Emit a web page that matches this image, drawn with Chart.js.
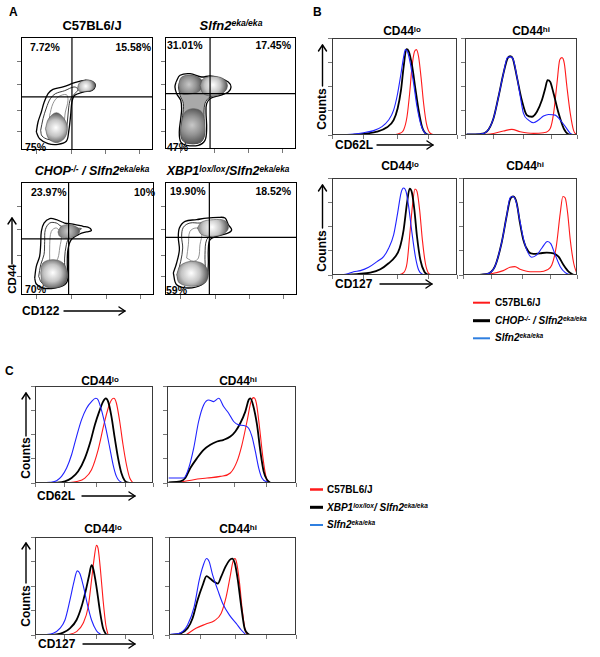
<!DOCTYPE html>
<html><head><meta charset="utf-8">
<script src="https://cdn.jsdelivr.net/npm/chart.js@4/dist/chart.umd.min.js"></script>
<style>
html,body{margin:0;padding:0;background:#fff;}
#page{position:relative;width:600px;height:657px;overflow:hidden;font-family:"Liberation Sans",Arial,Helvetica,sans-serif;font-weight:bold;color:#000;}
#page canvas{position:absolute;}
.t{position:absolute;white-space:nowrap;}
.c{text-align:center;}
.r{text-align:right;}
sup{font-size:0.66em;vertical-align:0.42em;line-height:0;}
i{font-style:italic;}
.rot{position:absolute;white-space:nowrap;text-align:center;transform:rotate(-90deg);}
svg{position:absolute;left:0;top:0;}
</style></head>
<body><div id="page">
<!-- panel letters -->
<div class="t" style="left:9px;top:6px;font-size:12px;line-height:12px">A</div>
<div class="t" style="left:313px;top:6px;font-size:12px;line-height:12px">B</div>
<div class="t" style="left:5px;top:365px;font-size:12px;line-height:12px">C</div>

<!-- panel A titles -->
<div class="t c" style="left:22px;width:140px;top:19px;font-size:13px;line-height:13px">C57BL6/J</div>
<div class="t c" style="left:161px;width:140px;top:19px;font-size:13px;line-height:13px"><i>Slfn2<sup>eka/eka</sup></i></div>
<div class="t c" style="left:12px;width:160px;top:165px;font-size:12.5px;line-height:13px"><i>CHOP<sup>-/-</sup> / Slfn2<sup>eka/eka</sup></i></div>
<div class="t c" style="left:148px;width:160px;top:165px;font-size:12.5px;line-height:13px"><i>XBP1<sup>lox/lox</sup>/Slfn2<sup>eka/eka</sup></i></div>

<!-- panel A percentages -->
<div class="t" style="left:30px;top:41.5px;font-size:10.5px;line-height:11px">7.72%</div>
<div class="t r" style="right:449px;top:41.5px;font-size:10.5px;line-height:11px">15.58%</div>
<div class="t" style="left:25px;top:141.5px;font-size:10.5px;line-height:11px">75%</div>
<div class="t" style="left:167px;top:40px;font-size:10.5px;line-height:11px">31.01%</div>
<div class="t r" style="right:309px;top:40px;font-size:10.5px;line-height:11px">17.45%</div>
<div class="t" style="left:167px;top:141.5px;font-size:10.5px;line-height:11px">47%</div>
<div class="t" style="left:31px;top:187px;font-size:10.5px;line-height:11px">23.97%</div>
<div class="t r" style="right:445px;top:187px;font-size:10.5px;line-height:11px">10%</div>
<div class="t" style="left:25px;top:284px;font-size:10.5px;line-height:11px">70%</div>
<div class="t" style="left:170px;top:186px;font-size:10.5px;line-height:11px">19.90%</div>
<div class="t r" style="right:309px;top:186px;font-size:10.5px;line-height:11px">18.52%</div>
<div class="t" style="left:166px;top:285px;font-size:10.5px;line-height:11px">59%</div>

<!-- panel A axis labels -->
<div class="rot" style="left:-8px;top:273px;width:40px;height:12px;font-size:11.5px;line-height:12px">CD44</div>
<div class="t" style="left:22px;top:305px;font-size:12px;line-height:12px">CD122</div>

<!-- panel B titles -->
<div class="t c" style="left:352px;width:100px;top:25px;font-size:12px;line-height:12px">CD44<sup>lo</sup></div>
<div class="t c" style="left:481px;width:100px;top:25px;font-size:12px;line-height:12px">CD44<sup>hi</sup></div>
<div class="t c" style="left:350px;width:100px;top:160px;font-size:12px;line-height:12px">CD44<sup>lo</sup></div>
<div class="t c" style="left:475px;width:100px;top:160px;font-size:12px;line-height:12px">CD44<sup>hi</sup></div>
<div class="rot" style="left:297px;top:103px;width:50px;height:12px;font-size:12px;line-height:12px">Counts</div>
<div class="rot" style="left:297px;top:245px;width:50px;height:12px;font-size:12px;line-height:12px">Counts</div>
<div class="t" style="left:335px;top:139px;font-size:12px;line-height:12px">CD62L</div>
<div class="t" style="left:335px;top:278px;font-size:12px;line-height:12px">CD127</div>

<!-- panel B legend -->
<div class="t" style="left:495px;top:297.5px;font-size:10px;line-height:10px">C57BL6/J</div>
<div class="t" style="left:495px;top:315.5px;font-size:10px;line-height:10px"><i>CHOP<sup>-/-</sup> / Slfn2<sup>eka/eka</sup></i></div>
<div class="t" style="left:495px;top:333px;font-size:10px;line-height:10px"><i>Slfn2<sup>eka/eka</sup></i></div>

<!-- panel C titles -->
<div class="t c" style="left:50px;width:100px;top:375px;font-size:12px;line-height:12px">CD44<sup>lo</sup></div>
<div class="t c" style="left:188px;width:100px;top:375px;font-size:12px;line-height:12px">CD44<sup>hi</sup></div>
<div class="t c" style="left:53px;width:100px;top:523px;font-size:12px;line-height:12px">CD44<sup>lo</sup></div>
<div class="t c" style="left:188px;width:100px;top:523px;font-size:12px;line-height:12px">CD44<sup>hi</sup></div>
<div class="rot" style="left:1px;top:452px;width:50px;height:12px;font-size:12px;line-height:12px">Counts</div>
<div class="rot" style="left:1px;top:600px;width:50px;height:12px;font-size:12px;line-height:12px">Counts</div>
<div class="t" style="left:37px;top:490px;font-size:12px;line-height:12px">CD62L</div>
<div class="t" style="left:38px;top:638px;font-size:12px;line-height:12px">CD127</div>

<!-- panel C legend -->
<div class="t" style="left:327px;top:484.5px;font-size:10px;line-height:10px">C57BL6/J</div>
<div class="t" style="left:327px;top:502.5px;font-size:10px;line-height:10px"><i>XBP1<sup>lox/lox</sup>/ Slfn2<sup>eka/eka</sup></i></div>
<div class="t" style="left:327px;top:520px;font-size:10px;line-height:10px"><i>Slfn2<sup>eka/eka</sup></i></div>

<svg width="600" height="657" viewBox="0 0 600 657">
 <g stroke="#000" stroke-width="1.4" fill="none" stroke-linecap="round" stroke-linejoin="round">
  <line x1="12" y1="264" x2="12" y2="218"/><polyline points="8,224 12,218 16,224"/>
  <line x1="64" y1="311" x2="125" y2="311"/><polyline points="119,307 125,311 119,315"/>
  <line x1="322.5" y1="86" x2="322.5" y2="45"/><polyline points="318.5,51 322.5,45 326.5,51"/>
  <line x1="377" y1="145" x2="433" y2="145"/><polyline points="427,141 433,145 427,149"/>
  <line x1="322.5" y1="228" x2="322.5" y2="185"/><polyline points="318.5,191 322.5,185 326.5,191"/>
  <line x1="380" y1="284" x2="432" y2="284"/><polyline points="426,280 432,284 426,288"/>
  <line x1="26" y1="436" x2="26" y2="393"/><polyline points="22,399 26,393 30,399"/>
  <line x1="82" y1="496" x2="135" y2="496"/><polyline points="129,492 135,496 129,500"/>
  <line x1="26" y1="583" x2="26" y2="543"/><polyline points="22,549 26,543 30,549"/>
  <line x1="83" y1="644" x2="135" y2="644"/><polyline points="129,640 135,644 129,648"/>
 </g>
 <line x1="473" y1="302.7" x2="490" y2="302.7" stroke="#ff1a1a" stroke-width="2"/>
 <line x1="473" y1="320.7" x2="490" y2="320.7" stroke="#000" stroke-width="3"/>
 <line x1="473" y1="338.3" x2="490" y2="338.3" stroke="#2f7fe0" stroke-width="2"/>
 <line x1="310" y1="489.5" x2="323" y2="489.5" stroke="#ff1a1a" stroke-width="2.5"/>
 <line x1="310" y1="507.3" x2="323" y2="507.3" stroke="#000" stroke-width="3"/>
 <line x1="310" y1="525" x2="323" y2="525" stroke="#2f7fe0" stroke-width="2"/>
</svg>
</div>
<script>
// ---------------- DATA (x, y in % of each plot frame) ----------------
// Panel A: quadrant gates [CD122 cut, CD44 cut]
const gateA1 = [38.6, 47];
const gateA2 = [34.4, 49.4];
const gateA3 = [35.8, 49.6];
const gateA4 = [33.6, 51];
const dotXTicks = [12, 38, 64, 90];
const dotYTicks = [16, 35, 58, 78];

// A1 C57BL6/J contours
const A1_outer = [[11.6,15.9],[12.9,24.8],[15.4,33.6],[17.4,41.9],[20.5,49.8],[24.2,53.7],[31.8,55.8],[40.7,59.6],[48.2,61.7],[54.5,60.2],[56.3,56.6],[53.8,52.8],[47,51.3],[40.7,48.4],[38.6,42.5],[37.6,30.7],[36.1,15.9],[34.3,7.7],[28,5],[20.5,5.6],[14.1,10]];
const A1_inner = [[14.9,17.4],[16.7,27.7],[19.2,37.2],[22.2,45.4],[26,49.8],[33.1,52.5],[40.2,55.8],[43.2,53.7],[40.7,49.8],[37.6,45.4],[36.1,37.2],[35.1,24.8],[33.1,13],[27.5,8.6],[20.5,9.4],[15.9,12.4]];
const A1_stem = [[21.7,30.7],[24.2,41],[28,46.9],[34.3,49],[35.6,44],[33.6,33.6],[31.8,23.3],[25.5,20.4],[21.7,24.8]];
const A1_blobLow = [[18.5,18.9],[20.9,27.7],[26.8,33],[32.7,27.7],[35.1,18.9],[32.7,10.1],[26.8,6.5],[20.9,10.1]];
const A1_blobHigh = [[42.7,54.3],[44.4,59.6],[49.5,61.9],[54.5,60.8],[56.3,57.2],[54.5,53.4],[49.5,51.9],[44.4,51.9]];

// A2 Slfn2 eka/eka contours
const A2_outer = [[8.4,59.8],[11.5,65.8],[19.1,67.3],[28,64.3],[34.4,65.2],[42,63.4],[48.3,59.8],[50.4,55.4],[48.3,50.9],[42,47.9],[34.4,44.9],[31.8,40.5],[31.3,33],[31.8,18.2],[30.5,7.7],[25.4,3.3],[16.5,3.3],[12,6.3],[10.9,15.2],[12,27.1],[12.7,36],[12,43.5],[8.9,49.4],[7.6,55.4]];
const A2_inner = [[10.2,55.4],[12.7,62.8],[20.4,64.3],[28,61.3],[34.4,62.8],[43.3,61.3],[47.1,56.8],[44.5,50.9],[34.4,46.4],[30.5,40.5],[29.8,27.1],[30,12.2],[26.7,5.7],[16.5,5.4],[12.7,9.2],[12.2,18.2],[13.5,30.1],[14,40.5],[11.5,47.9]];
const A2_blobLeft = [[10.2,56.8],[12.7,64.3],[21.6,65.8],[28,61.3],[26.7,52.4],[20.4,49.4],[12.7,49.4]];
const A2_blobHigh = [[26.7,56.8],[29.3,62.8],[36.9,64.9],[44.5,62.8],[47.6,57.4],[45.8,51.5],[38.2,47.3],[29.3,49.4]];
const A2_blobLow = [[12.7,24.1],[15.3,33],[21.6,36],[28,33],[30.5,21.1],[29.3,9.2],[22.9,4.8],[15.3,6.3],[12,13.7]];

// A3 CHOP-/- / Slfn2 eka/eka contours
const A3_outer = [[10.3,15],[11.5,25.4],[14,34.2],[14.8,44.5],[15.3,56.3],[17.3,63.7],[21.6,67.6],[26.6,66.7],[32.8,63.7],[39.1,62.8],[46.6,60.8],[51.6,59.3],[52.9,56.9],[49.1,55.8],[44.1,54],[37.8,49],[35.3,40.1],[34.8,26.8],[35.3,15],[32.8,9.1],[25.3,6.2],[16.5,6.2],[11.5,9.7]];
const A3_inner = [[13.3,16.5],[14.8,26.8],[17.3,35.7],[17.8,47.5],[18.3,57.8],[21.6,63.7],[26.6,63.7],[30.3,60.8],[37.8,59.3],[45.4,58.7],[41.6,56.3],[36.6,51.9],[34.1,44.5],[32.8,32.7],[32.8,18],[30.3,11.5],[22.8,9.7],[15.8,10.6]];
const A3_stem = [[21.6,29.8],[21.6,44.5],[22.8,56.3],[26.6,59.3],[30.3,53.4],[29.1,41.6],[27.8,32.7],[25.3,28.3]];
const A3_blobHigh = [[27.8,55.8],[30.3,60.8],[36.6,62.2],[42.9,59.3],[44.1,55.8],[40.4,51.9],[34.1,50.4],[29.1,51.9]];
const A3_blobLow = [[14.8,19.5],[16.5,28.3],[24.1,31.3],[31.6,28.3],[34.8,19.5],[32.8,9.7],[24.1,6.2],[16.5,9.1]];

// A4 XBP1 lox/lox / Slfn2 eka/eka contours
const A4_outer = [[6.3,19.5],[8.8,28.3],[10.9,40.1],[10.1,50.4],[10.9,59.3],[15.2,65.2],[24,66.7],[31.6,68.1],[40.4,68.7],[45.5,68.1],[48,62.2],[50.5,57.8],[48,54.9],[39.1,51.9],[34.1,49],[32.8,40.1],[32.8,26.8],[31.6,15],[27.8,9.1],[17.7,6.2],[8.8,9.1]];
const A4_inner = [[9.3,18],[11.9,29.8],[13.4,41.6],[12.6,51.9],[13.9,59.9],[18.9,63.7],[26.5,63.7],[34.1,65.2],[41.7,65.8],[45.5,62.2],[46.7,57.8],[44.2,55.8],[36.6,53.4],[31.6,49],[30.3,35.7],[30.3,19.5],[27.8,12.1],[17.7,9.7],[10.9,12.1]];
const A4_stem = [[16.4,32.7],[17.7,44.5],[18.9,56.3],[24,59.3],[27.8,54.9],[26.5,44.5],[25.3,32.7],[21.5,29.8]];
const A4_blobHigh = [[24.5,59.3],[27.8,64.6],[36.6,66.7],[45.5,65.8],[48,59.3],[44.2,54],[36.6,51.9],[27.8,53.4]];
const A4_blobLow = [[8.8,18],[11.9,26.3],[20.2,29.8],[29,27.4],[32.8,19.5],[30.3,10.6],[20.2,7.7],[10.9,10.6]];

// Histogram ticks
const histXTicks = [0, 25, 52, 77, 100];
const histYTicks = [0, 25, 50, 75, 100];

// Panel B, CD62L, CD44lo
const B1_red = [[49.3,0],[54.1,1.7],[57.3,5.1],[60,18.8],[62.1,42.8],[64,70.2],[65.9,85.6],[67.5,88],[69.3,80.5],[71.2,59.9],[73.3,32.5],[75.5,12],[78.1,2.4],[81.9,0]];
const B1_black = [[17.3,0.3],[28,1.7],[36,3.4],[44,7.9],[49.3,15.4],[52.5,27.4],[55.2,46.2],[57.3,70.2],[59.5,88.4],[61.3,86.6],[64,71.9],[66.7,47.9],[69.3,25.7],[72,8.6],[75.5,1],[78.7,0]];
const B1_blue = [[9.3,0.3],[17.3,1],[25.3,2.4],[33.3,4.5],[40,8.6],[45.3,15.4],[49.3,25.7],[52.5,42.8],[55.2,63.4],[57.3,80.5],[58.7,88],[60.5,85.6],[62.7,73.6],[65.3,53.1],[68,29.1],[71.2,10.3],[74.7,1.7],[78.7,0]];
// Panel B, CD62L, CD44hi
const B2_red = [[1.5,0],[22.4,1],[34.3,4.1],[41.8,5.8],[49.3,3.4],[61.2,1.7],[70.1,2.4],[76.1,6.8],[79.1,22.3],[82.1,53.1],[84.5,77.1],[86.6,79.8],[88.7,73.6],[91,49.7],[94,22.3],[97,4.5],[100,0]];
const B2_black = [[1.5,0.7],[13.4,1],[19.4,3.4],[25.4,17.1],[29.9,39.4],[34.3,63.4],[37.9,78.8],[40.3,81.2],[42.7,78.8],[46.3,59.9],[50.7,36],[55.2,20.5],[59.7,18.8],[64.2,24],[68.7,36],[71.6,47.9],[73.7,56.5],[76.1,54.8],[79.1,42.8],[83.6,22.3],[88.1,6.8],[92.5,0.7],[97,0]];
const B2_blue = [[1.5,0.7],[13.4,1],[19.4,3.4],[25.4,17.1],[29.9,39.4],[34.3,63.4],[37.9,79.8],[40.9,80.5],[43.3,77.1],[46.9,56.5],[49.9,36],[52.2,22.3],[56.7,15.4],[61.2,12.7],[65.7,15.4],[70.1,19.5],[74.6,21.2],[80.6,20.5],[85.1,15.4],[89.6,8.6],[94,1.7],[97,0]];
// Panel B, CD127, CD44lo
const B3_red = [[52,0],[57.3,2.4],[60,12.1],[62.1,39.7],[64.3,70.7],[66.4,88.6],[68,86.2],[70.1,67.2],[72.3,36.2],[74.7,12.1],[77.3,1.7],[80,0]];
const B3_black = [[9.3,0],[20,1],[30.7,2.4],[38.7,5.9],[45.3,12.1],[50.7,19],[54.1,27.6],[57.3,46.6],[60,74.1],[62.1,89],[64,84.5],[65.9,67.2],[68,39.7],[70.7,15.5],[73.9,3.4],[77.3,0]];
const B3_blue = [[2.7,0],[12,1],[17.3,3.4],[22.7,4.5],[29.3,7.9],[36,13.8],[41.3,19],[45.3,27.6],[49.3,41.4],[52.5,63.8],[55.2,84.5],[57.3,89.7],[59.2,86.2],[61.3,70.7],[64,43.1],[66.7,19],[69.3,5.2],[73.3,0]];
// Panel B, CD127, CD44hi
const B4_red = [[2.9,0],[23.5,1],[35.3,4.5],[41.2,7.9],[45.6,8.6],[50,5.9],[58.8,3.4],[67.6,3.4],[73.5,5.2],[77.9,10.3],[81.8,29.3],[85.3,63.8],[87.6,81],[89.7,79.3],[91.8,63.8],[94.1,36.2],[97.1,12.1],[100,1]];
const B4_black = [[2.9,0],[20.6,1],[27.9,8.6],[33.8,32.8],[38.2,60.3],[41.2,77.6],[44.1,81],[47.1,74.1],[50,53.4],[52.9,36.2],[57.4,24.1],[61.8,21.7],[67.6,22.4],[73.5,23.1],[79.4,22.4],[83.8,19],[88.2,10.3],[92.6,3.4],[97.1,0]];
const B4_blue = [[2.9,0],[20.6,1],[27.9,8.6],[33.8,32.8],[38.2,60.3],[41.2,79.3],[43.5,81],[46.5,75.9],[50,55.2],[52.9,37.9],[55.9,25.9],[60.3,18.3],[64.7,20.7],[69.1,27.6],[74.1,34.5],[77.1,32.1],[80.9,20.7],[85.3,8.6],[89.7,2.4],[94.1,0]];

// Panel C, CD62L, CD44lo
const C1_red = [[26.8,0],[35.2,1.4],[42.3,5.1],[47.9,13.7],[53.5,34.2],[58.3,59.9],[62,77.1],[64.8,85.6],[66.8,87.3],[69,82.2],[71.8,63.4],[74.6,39.4],[77.5,18.8],[80.3,5.1],[83.1,0]];
const C1_black = [[15.5,0],[25.4,1.7],[31,5.1],[36.6,12],[42.3,25.7],[47,42.8],[50.7,59.9],[54.4,73.6],[57.7,83.9],[60,87.3],[62,83.9],[64.8,68.5],[67.6,46.2],[70.4,25.7],[73.2,10.3],[76.1,2.4],[80.3,0]];
const C1_blue = [[1.4,0],[12.7,0.7],[18.3,2.4],[22.5,6.8],[26.8,15.4],[31,29.1],[35.2,47.9],[39.4,65.1],[43.7,77.1],[47.9,83.9],[51.5,87.3],[53.5,85.6],[56.3,75.3],[60,56.5],[63.4,36],[66.2,18.8],[69,6.8],[73.2,0.7],[77.5,0]];
// Panel C, CD62L, CD44hi
const C2_red = [[1.3,0],[10.3,1],[20.7,3.4],[31,5.1],[41.3,6.8],[49.1,10.3],[54.3,22.3],[58.1,39.4],[62,63.4],[65.1,83.9],[67.2,88],[69.3,82.2],[71.8,56.5],[74.4,25.7],[77,5.1],[80.1,0]];
const C2_black = [[1.3,0.7],[10.3,1.7],[14.2,5.1],[18.1,15.4],[23.3,25.7],[28.4,34.2],[33.6,39.4],[38.8,42.8],[43.9,44.5],[49.1,47.9],[53,53.1],[56.8,61.6],[60.7,73.6],[63.3,85.6],[64.6,87.3],[66.7,80.5],[69.8,59.9],[72.4,32.5],[74.9,12],[77.5,3.4],[80.1,0]];
const C2_blue = [[1.3,5.1],[12.9,5.1],[16.8,15.4],[20.7,36],[24.5,63.4],[28.4,80.5],[32.3,85.6],[36.2,83.9],[40.1,87.3],[43.9,78.8],[47.8,71.9],[51.7,63.4],[55.6,59.9],[59.4,59.2],[63.3,56.5],[65.9,47.9],[68.5,32.5],[71.1,15.4],[73.6,5.1],[77.5,1],[81.4,0]];
// Panel C, CD127, CD44lo
const C3_red = [[26.8,0],[35.2,3.4],[40.8,11.9],[45.1,28.8],[47.9,55.9],[50.1,78],[52.1,91.5],[53.5,88.1],[55.5,66.1],[57.7,35.6],[60,10.2],[62,0]];
const C3_black = [[15.5,0],[23.9,2.4],[29.6,6.8],[35.2,15.3],[39.4,28.8],[43.1,45.8],[45.9,61],[47.9,71.2],[49.3,67.8],[52.1,49.2],[54.9,25.4],[57.7,6.8],[60.6,0]];
const C3_blue = [[7,0],[15.5,1.7],[21.1,6.8],[25.4,15.3],[29.6,35.6],[33,54.2],[35.8,65.4],[38,62.7],[40.8,50.8],[44.2,32.2],[47.9,15.3],[52.1,4.4],[56.3,0]];
// Panel C, CD127, CD44hi
const C4_red = [[13.2,0],[21.2,6.8],[29.1,11.2],[35.7,14.6],[41,22],[45,39],[48.1,59.3],[50.3,74.6],[51.9,78],[53.4,72.9],[55.6,52.5],[57.7,25.4],[60.3,3.4],[63,0]];
const C4_black = [[1.3,0],[9.3,1.7],[14.6,6.8],[18.5,16.9],[22.5,35.6],[26.5,50.8],[29.6,60],[32.3,57.6],[35.7,54.2],[38.4,52.5],[41,59.3],[44.4,69.5],[47.6,76.3],[49.7,78],[51.9,72.9],[54.2,55.9],[56.9,28.8],[59.5,6.8],[63.5,0]];
const C4_blue = [[1.3,0.7],[9.3,2.4],[14.6,10.2],[19.8,28.8],[23.8,55.9],[27,71.2],[29.6,78],[31.7,74.6],[34.4,61],[38.4,45.8],[42.3,32.2],[47.6,20.3],[52.9,11.9],[56.9,5.1],[60.8,0]];

// ---------------- RENDERING ----------------
const RED = '#ff1a1a', BLACK = '#000000', BLUE = '#1f22ff';
const P = a => a.map(p => ({x: p[0], y: p[1]}));
const closed = a => P(a.concat([a[0]]));

Chart.register({
  id: 'frame',
  afterDatasetsDraw(chart, args, opts) {
    const {ctx, chartArea: a} = chart;
    ctx.save();
    ctx.strokeStyle = opts.color || '#000';
    ctx.lineWidth = 1;
    ctx.strokeRect(a.left + 0.5, a.top + 0.5, a.right - a.left - 1, a.bottom - a.top - 1);
    ctx.restore();
  }
});

function axis(ticks) {
  return {
    type: 'linear', min: 0, max: 100,
    ticks: {display: false},
    afterBuildTicks: s => { s.ticks = ticks.map(v => ({value: v})); },
    grid: {drawOnChartArea: false, drawTicks: true, tickLength: 4, color: '#777', lineWidth: 1},
    border: {display: false}
  };
}

function make(box, datasets, xt, yt, frameColor) {
  const cv = document.createElement('canvas');
  cv.width = box[2] + 5; cv.height = box[3] + 5;
  cv.style.left = (box[0] - 4) + 'px';
  cv.style.top = (box[1] - 1) + 'px';
  cv.style.width = cv.width + 'px'; cv.style.height = cv.height + 'px';
  document.getElementById('page').appendChild(cv);
  return new Chart(cv.getContext('2d'), {
    type: 'scatter',
    data: {datasets},
    options: {
      responsive: false, animation: false, devicePixelRatio: 1, events: [],
      layout: {padding: {top: 1, right: 1, left: 0, bottom: 0}},
      plugins: {legend: {display: false}, tooltip: {enabled: false}, frame: {color: frameColor}},
      scales: {x: axis(xt), y: axis(yt)}
    }
  });
}

function blobFill(light, mid, dark) {
  return (c) => {
    const chart = c.chart, ds = c.dataset;
    const xs = chart.scales.x, ys = chart.scales.y;
    if (!ds || !xs || !ys || !chart.chartArea) return mid;
    const pts = ds.data;
    let sx = 0, sy = 0;
    pts.forEach(p => { sx += p.x; sy += p.y; });
    const cx = xs.getPixelForValue(sx / pts.length), cy = ys.getPixelForValue(sy / pts.length);
    let r = 1;
    pts.forEach(p => { r = Math.max(r, Math.hypot(xs.getPixelForValue(p.x) - cx, ys.getPixelForValue(p.y) - cy)); });
    const g = chart.ctx.createRadialGradient(cx + r * 0.05, cy - r * 0.05, 0, cx, cy, r * 1.05);
    g.addColorStop(0, light); g.addColorStop(0.5, mid); g.addColorStop(1, dark);
    return g;
  };
}

function layer(pts, line, w, fill) {
  return {data: closed(pts), showLine: true, pointRadius: 0, borderColor: line, borderWidth: w,
          tension: 0.35, fill: fill ? 'shape' : false, backgroundColor: fill || 'transparent'};
}

function contour(box, layers, gate) {
  const ds = layers.slice();
  ds.push({data: P([[gate[0], 0], [gate[0], 100]]), showLine: true, pointRadius: 0, borderColor: '#000', borderWidth: 1.2, fill: false});
  ds.push({data: P([[0, gate[1]], [100, gate[1]]]), showLine: true, pointRadius: 0, borderColor: '#000', borderWidth: 1.2, fill: false});
  ds.reverse(); // first dataset is drawn on top
  make(box, ds, dotXTicks, dotYTicks, '#000');
}

function hist(box, red, black, blue) {
  const ds = [
    {data: P(blue), borderColor: BLUE, borderWidth: 1.1},
    {data: P(black), borderColor: BLACK, borderWidth: 1.8},
    {data: P(red), borderColor: RED, borderWidth: 1.1}
  ].map(d => Object.assign(d, {showLine: true, pointRadius: 0, fill: false, cubicInterpolationMode: 'monotone'}));
  make(box, ds, histXTicks, histYTicks, '#3a3a3a');
}

const smooth = () => blobFill('#ffffff', '#c4c4c4', '#4a4a4a');
const mottled = () => blobFill('#c8c8c8', '#939393', '#505050');

contour([21, 37, 132, 113], [
  layer(A1_outer, '#000', 1.3), layer(A1_inner, '#222', 0.9), layer(A1_stem, '#777', 0.8),
  layer(A1_blobHigh, '#555', 0.6, smooth()), layer(A1_blobLow, '#555', 0.6, smooth())
], gateA1);
contour([165, 37, 131, 112], [
  layer(A2_outer, '#000', 1.3), layer(A2_inner, '#222', 0.9, '#a9a9a9'),
  layer(A2_blobLeft, '#555', 0.6, mottled()), layer(A2_blobLow, '#555', 0.6, mottled()),
  layer(A2_blobHigh, '#555', 0.6, smooth())
], gateA2);
contour([21, 182, 133, 113], [
  layer(A3_outer, '#000', 1.3), layer(A3_inner, '#222', 0.9), layer(A3_stem, '#777', 0.8),
  layer(A3_blobHigh, '#555', 0.6, mottled()), layer(A3_blobLow, '#555', 0.6, smooth())
], gateA3);
contour([165, 182, 132, 113], [
  layer(A4_outer, '#000', 1.3), layer(A4_inner, '#222', 0.9), layer(A4_stem, '#777', 0.8),
  layer(A4_blobHigh, '#555', 0.6, smooth()), layer(A4_blobLow, '#555', 0.6, smooth())
], gateA4);

hist([332, 38, 125, 97], B1_red, B1_black, B1_blue);
hist([465, 38, 112, 97], B2_red, B2_black, B2_blue);
hist([332, 178, 125, 97], B3_red, B3_black, B3_blue);
hist([463, 178, 114, 97], B4_red, B4_black, B4_blue);
hist([35, 386, 118, 97], C1_red, C1_black, C1_blue);
hist([167, 386, 129, 97], C2_red, C2_black, C2_blue);
hist([35, 537, 118, 98], C3_red, C3_black, C3_blue);
hist([169, 537, 127, 98], C4_red, C4_black, C4_blue);
</script>
</body></html>
